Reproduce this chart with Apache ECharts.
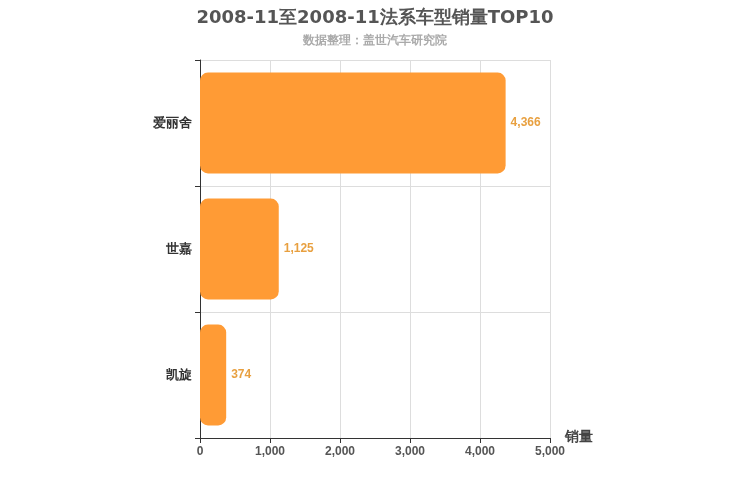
<!DOCTYPE html>
<html><head><meta charset="utf-8">
<script src="https://cdn.jsdelivr.net/npm/echarts@6/dist/echarts.min.js"></script>
<style>html,body{margin:0;padding:0}#c{width:750px;height:500px}</style>
</head><body><div id="c"></div>
<script>
const categories = ['爱丽舍', '世嘉', '凯旋'];
const sales = [4366, 1125, 374];
const xTicks = [0, 1000, 2000, 3000, 4000, 5000];
const chart = echarts.init(document.getElementById('c'));
chart.setOption({
  animation: false,
  title: {
    text: '2008-11至2008-11法系车型销量TOP10',
    subtext: '数据整理：盖世汽车研究院',
    left: 'center', top: 4,
    textStyle: {fontSize: 18, fontWeight: 'bold', color: '#555', fontFamily: 'DejaVu Sans'},
    subtextStyle: {fontSize: 12, color: '#aaa', fontWeight: 'bold'},
    itemGap: 8
  },
  grid: {left: 200, right: 200, top: 60, bottom: 62},
  xAxis: {
    type: 'value', min: 0, max: 5000, interval: 1000,
    name: '销量', nameLocation: 'end', nameGap: 15,
    nameTextStyle: {fontSize: 14, fontWeight: 'bold', color: '#444', verticalAlign: 'top', padding: [-8, 0, 0, 0]},
    axisLine: {show: true, lineStyle: {color: '#333'}},
    axisTick: {show: true},
    axisLabel: {color: '#555', fontWeight: 'bold', fontSize: 12, formatter: v => xTicks.includes(v) ? v.toLocaleString('en-US') : ''},
    splitLine: {lineStyle: {color: '#ddd'}}
  },
  yAxis: {
    type: 'category', data: categories, inverse: true,
    axisLine: {show: true, lineStyle: {color: '#333'}},
    axisTick: {show: true},
    axisLabel: {color: '#333', fontWeight: 'bold', fontSize: 13},
    splitLine: {show: true, lineStyle: {color: '#ddd'}}
  },
  series: [{
    type: 'bar', data: sales, barWidth: '80%',
    itemStyle: {color: '#ff9b35', borderRadius: 8},
    label: {show: true, position: 'right', color: '#e8a040', fontWeight: 'bold', fontSize: 12,
      formatter: p => p.value.toLocaleString('en-US')}
  }]
});
</script></body></html>
